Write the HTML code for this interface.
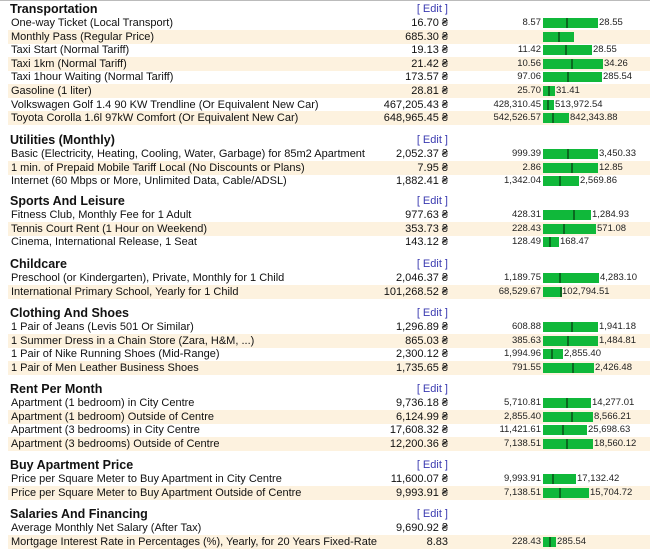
<!DOCTYPE html>
<html><head><meta charset="utf-8">
<style>
body{margin:0;width:650px;height:549px;background:#fff;overflow:hidden;position:relative;font-family:"Liberation Sans",Arial,sans-serif;color:#111}
#top{position:absolute;left:0;top:0;width:650px;height:1px;background:#bbb}
.t{position:absolute;white-space:nowrap;line-height:14px;transform:translateY(-7px)}
.h{font-weight:bold;font-size:12.5px;left:10px}
.n{font-size:11px;left:11px}
.v{font-size:11px;right:202px;text-align:right}
.e{font-size:11px;right:202px;color:#3a3ab0}
.lo{font-size:9.5px;right:109px;text-align:right;color:#222}
.hi{font-size:9.5px;color:#222}
.s{position:absolute;left:8px;width:642px;height:14px;background:#fdf2df}
.b{position:absolute;height:10px;background:#10b83a}
.m{position:absolute;width:2px;height:10px;background:#0a6a20}
</style></head><body>
<div id="top"></div>
<div id="root"></div>
<script>
const sections=["Transportation","Utilities (Monthly)","Sports And Leisure","Childcare","Clothing And Shoes","Rent Per Month","Buy Apartment Price","Salaries And Financing"];
const headerY=[9,140,201,264,313,389,465,514];
const itemNames=[
["One-way Ticket (Local Transport)","Monthly Pass (Regular Price)","Taxi Start (Normal Tariff)","Taxi 1km (Normal Tariff)","Taxi 1hour Waiting (Normal Tariff)","Gasoline (1 liter)","Volkswagen Golf 1.4 90 KW Trendline (Or Equivalent New Car)","Toyota Corolla 1.6l 97kW Comfort (Or Equivalent New Car)"],
["Basic (Electricity, Heating, Cooling, Water, Garbage) for 85m2 Apartment","1 min. of Prepaid Mobile Tariff Local (No Discounts or Plans)","Internet (60 Mbps or More, Unlimited Data, Cable/ADSL)"],
["Fitness Club, Monthly Fee for 1 Adult","Tennis Court Rent (1 Hour on Weekend)","Cinema, International Release, 1 Seat"],
["Preschool (or Kindergarten), Private, Monthly for 1 Child","International Primary School, Yearly for 1 Child"],
["1 Pair of Jeans (Levis 501 Or Similar)","1 Summer Dress in a Chain Store (Zara, H&M, ...)","1 Pair of Nike Running Shoes (Mid-Range)","1 Pair of Men Leather Business Shoes"],
["Apartment (1 bedroom) in City Centre","Apartment (1 bedroom) Outside of Centre","Apartment (3 bedrooms) in City Centre","Apartment (3 bedrooms) Outside of Centre"],
["Price per Square Meter to Buy Apartment in City Centre","Price per Square Meter to Buy Apartment Outside of Centre"],
["Average Monthly Net Salary (After Tax)","Mortgage Interest Rate in Percentages (%), Yearly, for 20 Years Fixed-Rate"]];
const prices=[
["16.70 ₴","685.30 ₴","19.13 ₴","21.42 ₴","173.57 ₴","28.81 ₴","467,205.43 ₴","648,965.45 ₴"],
["2,052.37 ₴","7.95 ₴","1,882.41 ₴"],["977.63 ₴","353.73 ₴","143.12 ₴"],
["2,046.37 ₴","101,268.52 ₴"],["1,296.89 ₴","865.03 ₴","2,300.12 ₴","1,735.65 ₴"],
["9,736.18 ₴","6,124.99 ₴","17,608.32 ₴","12,200.36 ₴"],["11,600.07 ₴","9,993.91 ₴"],["9,690.92 ₴","8.83"]];
const lowLabels=[["8.57","","11.42","10.56","97.06","25.70","428,310.45","542,526.57"],["999.39","2.86","1,342.04"],["428.31","228.43","128.49"],["1,189.75","68,529.67"],["608.88","385.63","1,994.96","791.55"],["5,710.81","2,855.40","11,421.61","7,138.51"],["9,993.91","7,138.51"],["","228.43"]];
const highLabels=[["28.55","","28.55","34.26","285.54","31.41","513,972.54","842,343.88"],["3,450.33","12.85","2,569.86"],["1,284.93","571.08","168.47"],["4,283.10","102,794.51"],["1,941.18","1,484.81","2,855.40","2,426.48"],["14,277.01","8,566.21","25,698.63","18,560.12"],["17,132.42","15,704.72"],["","285.54"]];
// bar length and median position (relative scale units)
const barLen=[[55,31,49,60,59,12,11,26],[55,55,36],[48,53,16],[56,18],[55,55,20,51],[48,50,44,50],[33,46],[0,13]];
const medPos=[[23,15,22,28,24,5,4,9],[24,28,16],[30,20,6],[16,17],[28,24,8,29],[23,28,19,23],[9,16],[0,6]];
const X0=543,ROW=13.6;
const root=document.getElementById('root');
function mk(cls,txt,name,inter){const d=document.createElement('div');d.className=cls;if(txt!==null)d.textContent=txt;


root.appendChild(d);return d;}
sections.forEach((sec,si)=>{
  const hy=headerY[si];
  let h=mk('t h',sec,'section-header',false);h.style.top=hy+'px';
  let e=mk('t e','[ Edit ]','edit-link',true);e.style.top=hy+'px';
  itemNames[si].forEach((nm,i)=>{
    const y=hy+14+i*ROW;
    if(i%2===1){let s=mk('s',null,'row-stripe',false);s.style.top=(y-7)+'px';}
    let n=mk('t n',nm,'item-name',false);n.style.top=y+'px';
    let v=mk('t v',prices[si][i],'item-price',false);v.style.top=y+'px';
    if(lowLabels[si][i]){let l=mk('t lo',lowLabels[si][i],'range-low',false);l.style.top=y+'px';}
    const w=barLen[si][i];
    if(w>0){
      let b=mk('b',null,'range-bar',false);b.style.left=X0+'px';b.style.top=(y-5)+'px';b.style.width=w+'px';
      let m=mk('m',null,'median-marker',false);m.style.left=(X0+medPos[si][i])+'px';m.style.top=(y-5)+'px';
      if(highLabels[si][i]){let r=mk('t hi',highLabels[si][i],'range-high',false);r.style.left=(X0+w+1)+'px';r.style.top=y+'px';}
    }
  });
});
</script>
</body></html>
